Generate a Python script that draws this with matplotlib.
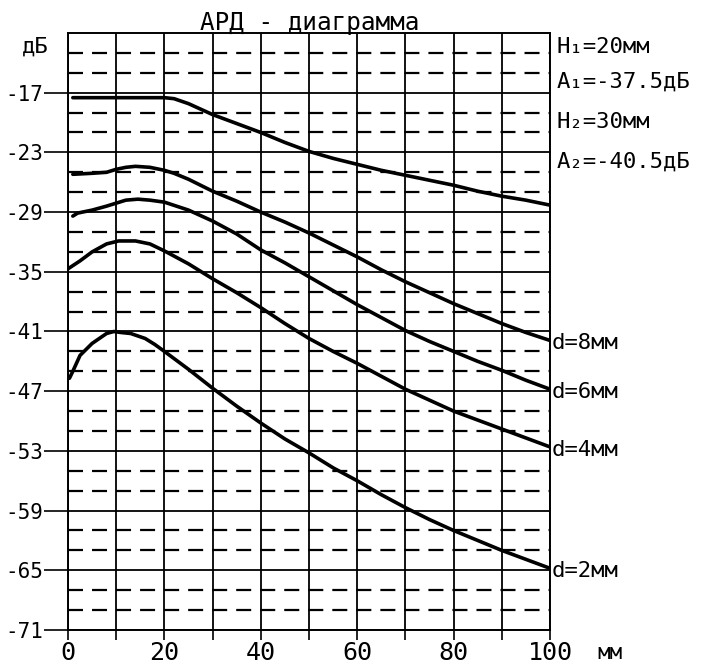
import numpy as np
import matplotlib
matplotlib.use("Agg")
import matplotlib.pyplot as plt

plt.rcParams['font.family'] = ['DejaVu Sans Mono', 'DejaVu Sans']
plt.rcParams['lines.scale_dashes'] = False

# ---------- data ----------
# top curve (no label)
x_top = [1, 5, 10, 15, 20, 22, 25, 30, 35, 40, 45, 50, 55, 60, 65, 70, 75, 80, 85, 90, 95, 100]
y_top = [-17.5, -17.5, -17.5, -17.5, -17.5, -17.6, -18.1, -19.2, -20.1, -21.0, -22.0,
         -22.9, -23.6, -24.2, -24.8, -25.3, -25.8, -26.3, -26.9, -27.4, -27.8, -28.3]

x_d8 = [1, 5, 8, 10, 12, 14, 17, 20, 22, 25, 30, 35, 40, 45, 50, 55, 60, 65, 70, 75, 80, 85, 90, 95, 100]
y_d8 = [-25.2, -25.1, -25.0, -24.7, -24.5, -24.4, -24.5, -24.8, -25.1, -25.7, -26.9, -27.9,
        -29.0, -30.0, -31.1, -32.3, -33.5, -34.8, -36.0, -37.1, -38.2, -39.2, -40.2, -41.1, -41.9]

x_d6 = [1, 2, 5, 8, 10, 12, 14.5, 17, 20, 25, 30, 35, 40, 45, 50, 55, 60, 65, 70, 75, 80, 85, 90, 95, 100]
y_d6 = [-29.4, -29.1, -28.8, -28.4, -28.1, -27.8, -27.7, -27.8, -28.0, -28.8, -29.9, -31.2,
        -32.8, -34.1, -35.5, -36.9, -38.3, -39.6, -40.9, -42.0, -43.0, -44.0, -44.9, -45.9, -46.8]

x_d4 = [0, 2.5, 5, 8, 10.5, 14, 17, 20, 25, 30, 35, 40, 45, 50, 55, 60, 65, 70, 75, 80, 85, 90, 95, 100]
y_d4 = [-34.7, -33.9, -33.0, -32.2, -31.9, -31.9, -32.2, -32.9, -34.2, -35.7, -37.1, -38.6,
        -40.2, -41.7, -43.0, -44.2, -45.5, -46.8, -47.9, -49.0, -49.9, -50.8, -51.7, -52.6]

x_d2 = [0.3, 1, 2.5, 5, 8, 9.5, 11, 13, 16, 18, 20, 25, 30, 35, 40, 45, 50, 55, 60, 65, 70,
        75, 80, 85, 90, 95, 100]
y_d2 = [-45.7, -45.0, -43.4, -42.2, -41.2, -41.0, -41.1, -41.2, -41.7, -42.3, -43.0, -44.8,
        -46.7, -48.5, -50.2, -51.8, -53.2, -54.7, -56.0, -57.4, -58.7, -59.9, -61.0, -62.0,
        -63.0, -63.9, -64.8]

curve_labels = ['d=8мм', 'd=6мм', 'd=4мм', 'd=2мм']
x_ticks_lab = [0, 20, 40, 60, 80, 100]
y_ticks_lab = [-71, -65, -59, -53, -47, -41, -35, -29, -23, -17]
info_lines = ['H₁=20мм', 'A₁=-37.5дБ', 'H₂=30мм', 'A₂=-40.5дБ']

# ---------- figure ----------
fig = plt.figure(figsize=(7.01, 6.66), dpi=100)
ax = fig.add_axes([68/701, 1-630/666, 482/701, 597/666])
ax.set_xlim(0, 100)
ax.set_ylim(-71, -11)

# grid: solid every 10 mm / 6 dB, dashed every 2 dB
ax.set_xticks(np.arange(0, 101, 10))
ax.set_xticklabels([str(v) if v in x_ticks_lab else '' for v in range(0, 101, 10)])
ax.set_yticks(y_ticks_lab)
ax.set_yticklabels([str(v) for v in y_ticks_lab])
minor_y = [v for v in range(-69, -11, 2) if (v + 71) % 6 != 0]
ax.set_yticks(minor_y, minor=True)

ax.grid(True, which='major', color='black', linewidth=1.3, linestyle='-')
ax.grid(True, which='minor', axis='y', color='black', linewidth=1.6,
        linestyle=(0, (10.8, 6.5)))
ax.tick_params(axis='y', which='major', length=17, width=1.2, pad=1, labelsize=15)
ax.tick_params(axis='y', which='minor', length=0)
ax.tick_params(axis='x', which='major', length=7, width=1.2, pad=1, labelsize=18)
for s in ax.spines.values():
    s.set_linewidth(1.4)

# curves
ax.plot(x_top, y_top, color='black', lw=2.6, solid_capstyle='round')
ends = []
for xs, ys in [(x_d8, y_d8), (x_d6, y_d6), (x_d4, y_d4), (x_d2, y_d2)]:
    ax.plot(xs, ys, color='black', lw=2.6, solid_capstyle='round')
    ends.append(ys[-1])

for lab, ye in zip(curve_labels, ends):
    ax.annotate(lab, xy=(100, ye), xytext=(1, -2), textcoords='offset points',
                ha='left', va='center', fontsize=16, annotation_clip=False)

# texts
fig.text(310/701, 1-30/666, 'АРД - диаграмма', ha='center', va='baseline', fontsize=17.5)
fig.text(22/701, 1-47/666, 'дБ', ha='left', va='center', fontsize=16)
for i, t in enumerate(info_lines):
    ypx = [47, 82, 122, 162][i]
    fig.text(557/701, 1-ypx/666, t, ha='left', va='center', fontsize=16)
fig.text(597/701, 1-653/666, 'мм', ha='left', va='center', fontsize=15)

fig.savefig('out.png', dpi=100)
